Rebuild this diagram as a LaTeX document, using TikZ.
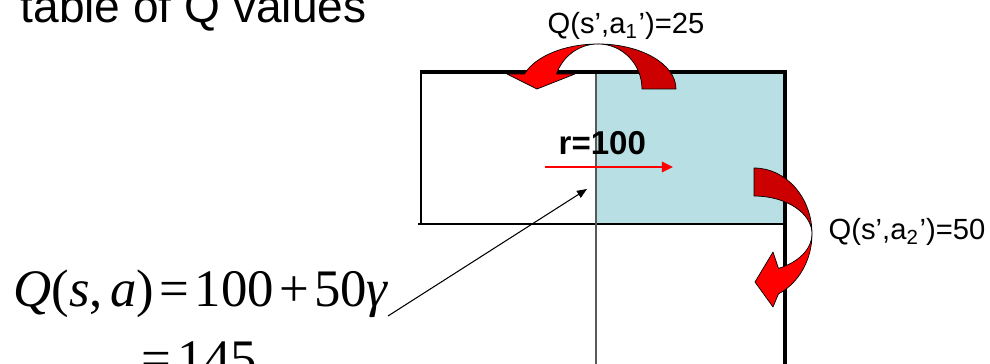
\documentclass[tikz,border=0pt]{standalone}
\usepackage{fontspec}
\setmainfont{Liberation Sans}
\newfontfamily\eqfont{Liberation Serif}
\usetikzlibrary{arrows.meta}

\definecolor{cellblue}{RGB}{184,223,227}
\definecolor{backred}{RGB}{204,0,0}
\definecolor{frontred}{RGB}{255,0,0}
\newcommand{\vi}[1]{{\itshape #1}}

\begin{document}
\begin{tikzpicture}[
			x=0.01cm, y=-0.01cm,
			thinline/.style={line width=0.3pt, black},
			thickline/.style={line width=0.9pt, black},
			midline/.style={line width=0.45pt, black!65},
			cell/.style={fill=cellblue},
			backpart/.style={fill=backred, draw=black, line width=0.2pt, line join=round},
			frontpart/.style={fill=frontred, draw=black, line width=0.2pt, line join=round},
			title/.style={inner sep=0pt, font=\fontsize{13.1}{15}\selectfont},
			qlabel/.style={inner sep=0pt, font=\fontsize{8.3}{10}\selectfont},
			rlabel/.style={inner sep=0pt, font=\fontsize{9.4}{11}\selectfont\bfseries},
			eqtext/.style={inner sep=0pt, font=\eqfont\fontsize{15}{18}\selectfont},
			rewardarr/.style={-{Triangle[length=0.11cm, width=0.1cm]}, line width=0.7pt, frontred},
			pointarr/.style={-{Triangle[length=0.1cm, width=0.08cm]}, line width=0.3pt, black}
			]
			\useasboundingbox (0,0) rectangle (990,364);
			
			%% ── Grid of states ──────────────────────────────────────────────────
			\fill[cell] (596,72) rectangle (785,224);
			\draw[thinline] (421,72) -- (421,224);
			\draw[thinline] (418,224) -- (785,224);
			\draw[midline] (596,72) -- (596,370);
			\draw[thickline] (420,72) -- (787,72);
			\draw[thickline] (785,72) -- (785,370);
			
			%% ── Texts ───────────────────────────────────────────────────────────
			\node[title, anchor=base west] (title) at (20,22.5) {table of Q values};
			\node[rlabel, anchor=base west] (rlab) at (558,155) {r=100};
			\node[qlabel, anchor=base] (qone) at (626,34) {Q(s’,a\textsubscript{1}’)=25};
			\node[qlabel, anchor=base west] (qtwo) at (828,240) {Q(s’,a\textsubscript{2}’)=50};
			
			\node[eqtext, anchor=base west] (eqtop) at (13,307)
				{\vi{Q}(\vi{s},\hspace{0.14em}\vi{a})\hspace{0.1em}=\hspace{0.1em}100\hspace{0.1em}+\hspace{0.1em}50\vi{γ}};
			\node[eqtext, anchor=base west] (eqbot) at (141,377) {=\hspace{0.12em}145};
			
			%% ── Reward arrow and pointer ────────────────────────────────────────
			\coordinate (rtail) at (545,167);
			\coordinate (rtip) at (673,167);
			\draw[rewardarr] (rtail) -- (rtip);
			
			\coordinate (eqpt) at (388,316);
			\coordinate (cellpt) at (587,189);
			\draw[pointarr] (eqpt) -- (cellpt);
			
			%% ── Curved arrow up and over ────────────────────────────────────────
			\draw[backpart] (676,89)
				arc[start angle=0, end angle=90, x radius=0.78cm, y radius=0.45cm]
				arc[start angle=90, end angle=0, x radius=0.44cm, y radius=0.45cm] -- cycle;
			\draw[frontpart] (598,44)
				arc[start angle=90, end angle=160.5, x radius=0.78cm, y radius=0.45cm]
				-- (507,74) -- (537,89) -- (575,74) -- (556.5,74)
				arc[start angle=160.5, end angle=90, x radius=0.44cm, y radius=0.45cm] -- cycle;
			
			%% ── Curved arrow down the right side ────────────────────────────────
			\draw[backpart] (754,168)
				arc[start angle=90, end angle=0, x radius=0.58cm, y radius=0.66cm]
				arc[start angle=0, end angle=90, x radius=0.58cm, y radius=0.38cm] -- cycle;
			\draw[frontpart] (812,234)
				arc[start angle=0, end angle=-65, x radius=0.58cm, y radius=0.66cm]
				-- (773,307) -- (755,282) -- (773,252) -- (778.5,268.4)
				arc[start angle=-65, end angle=0, x radius=0.58cm, y radius=0.38cm] -- cycle;
			
		\end{tikzpicture}
\end{document}
